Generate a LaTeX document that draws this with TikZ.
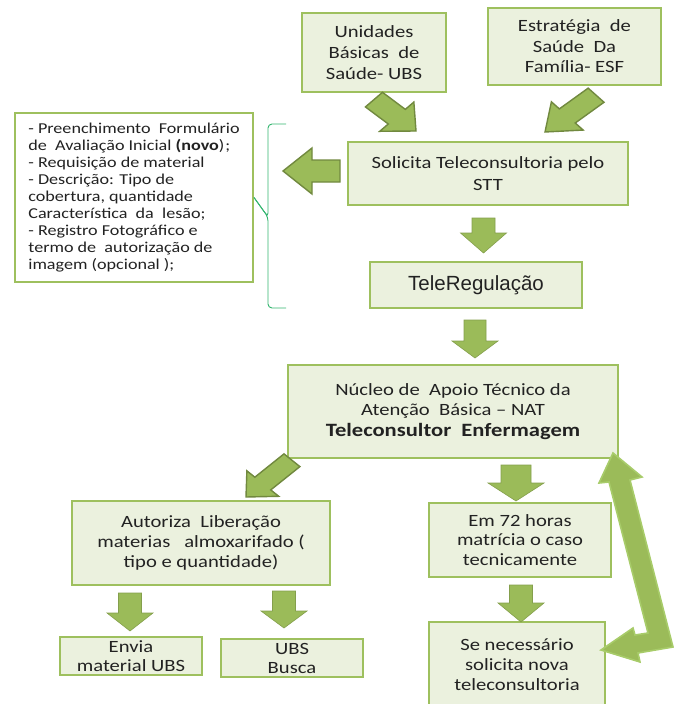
\documentclass[tikz,border=0pt]{standalone}
\usepackage{fontspec}
\setmainfont{Carlito}[FakeStretch=1.2]
\newfontfamily\arialf{Liberation Sans}
\usetikzlibrary{calc}
\definecolor{olive}{RGB}{155,187,89}
\definecolor{olivedark}{RGB}{113,137,63}
\definecolor{olivelight}{RGB}{168,204,106}
\definecolor{boxfill}{RGB}{235,241,222}
\definecolor{boxline}{RGB}{158,192,94}
\definecolor{bracecol}{RGB}{50,180,110}
\definecolor{txt}{RGB}{34,34,34}
\newcommand{\fsz}[2]{\fontsize{#1}{#2}\selectfont}
\newcommand{\axs}{1.25}
\newcommand{\dsp}{\ \ }
% #1 style, #2 tip, #3 angle, #4 length, #5 shaft half-width, #6 head half-width, #7 head length
\newcommand{\barrow}[7][]{%
  \begin{scope}[shift={(#2)}, xscale=\axs, rotate=#3]
    \draw[#1] (0,0) -- (-#7,#6) -- (-#7,#5) -- (-#4,#5) -- (-#4,-#5) -- (-#7,-#5) -- (-#7,-#6) -- cycle;
  \end{scope}}
\begin{document}
\begin{tikzpicture}[x=1pt,y=-1pt,
  box/.style={draw=boxline, line width=2pt, fill=boxfill, text=txt, align=center, inner sep=0pt, font=\fsz{17.2}{20}},
  darrow/.style={fill=olive, draw=olive!85!black, line width=0.6pt, line join=miter},
  karrow/.style={fill=olive, draw=olivedark, line width=1.4pt, line join=miter},
  larrow/.style={fill=olive, draw=olivelight, line width=1.6pt, line join=miter}]
\useasboundingbox (0,0) rectangle (681,704);

% boxes
\node[box, minimum width=144pt, minimum height=79pt, font=\fsz{17.2}{21}] (ubs) at (374,52.5) {Unidades\\Básicas\dsp de\\Saúde- UBS};
\node[box, minimum width=173pt, minimum height=77pt, font=\fsz{17.2}{20.5}] (esf) at (574.5,46.5) {Estratégia\dsp de\\Saúde\dsp Da\\Família- ESF};
\node[box, minimum width=280pt, minimum height=63pt, font=\fsz{17.2}{22}] (sol) at (488,173.5) {Solicita Teleconsultoria pelo\\STT};
\node[box, fill=white, minimum width=238pt, minimum height=169pt, align=left, font=\fsz{15.1}{17}] (req) at (134,197.5)
  {- Preenchimento\dsp Formulário\\de\dsp Avaliação Inicial \textbf{(novo})\kern1pt;\\- Requisição de material\\- Descrição: Tipo de\\cobertura, quantidade\\Característica\dsp da\dsp lesão;\\- Registro Fotográfico e\\termo de\dsp autorização de\\imagem (opcional );};
\node[box, minimum width=212pt, minimum height=46pt, font=\arialf\fsz{20.5}{24}] (reg) at (476,285) {TeleRegulação};
\node[box, minimum width=330pt, minimum height=93pt, font=\fsz{17.2}{20.5}] (nat) at (453,411.5) {Núcleo de\dsp Apoio Técnico da\\Atenção\dsp Básica – NAT\\{\fsz{18.8}{20.5}\textbf{Teleconsultor\dsp Enfermagem}}};
\node[box, minimum width=258pt, minimum height=84pt] (aut) at (201,543) {Autoriza\dsp Liberação\\materias\dsp\ almoxarifado (\\tipo e quantidade)};
\node[box, minimum width=182pt, minimum height=74pt, font=\fsz{17.2}{19.5}] (em) at (520,540) {Em 72 horas\\matrícia o caso\\tecnicamente};
\node[box, minimum width=176pt, minimum height=86pt] (se) at (517,665) {Se necessário\\solicita nova\\teleconsultoria};
\node[box, minimum width=142pt, minimum height=38pt, font=\fsz{17.2}{19}] (env) at (131,656) {Envia\\material UBS};
\node[box, minimum width=142pt, minimum height=38pt, font=\fsz{17.2}{19}] (bus) at (292,658) {UBS\\Busca};

% brace
\coordinate (brtip) at (req.east);
\draw[bracecol, line width=0.9pt, rounded corners=4pt] (286,124) -- (268,124) -- (268,217) -- (brtip);
\draw[bracecol, line width=0.9pt, rounded corners=4pt] (286,308) -- (268,308) -- (268,217) -- (brtip);

% arrow tips
\coordinate (tUbs) at (416,131);
\coordinate (tEsf) at (545,132);
\coordinate (tReq) at (283,171);
\coordinate (tReg) at (483.5,253);
\coordinate (tNat) at (475,358);
\coordinate (tAut) at (246,497);
\coordinate (tEm) at (516,501);
\coordinate (tSe) at (521,622);
\coordinate (tEnv) at (130,631);
\coordinate (tBus) at (284,628);

\barrow[karrow]{tUbs}{-43}{46}{10}{20}{21}
\barrow[karrow]{tEsf}{222}{55}{9.5}{19}{24}
\barrow[karrow]{tReq}{180}{45.6}{11}{23}{23.2}
\barrow[karrow]{tAut}{225}{52}{9}{18}{19}
\barrow[darrow]{tReg}{-90}{35}{9.2}{18.4}{20}
\barrow[darrow]{tNat}{-90}{38}{8.8}{18.4}{17}
\barrow[darrow]{tEm}{-90}{36}{12}{22.4}{18}
\barrow[darrow]{tSe}{-90}{37}{9.2}{18.4}{19}
\barrow[darrow]{tEnv}{-90}{38}{9.2}{18.4}{18}
\barrow[darrow]{tBus}{-90}{37}{9.2}{18.4}{17}

% double bent arrow between NAT and "Se necessario"
\draw[larrow] (613,453) -- (642,477) -- (630,480) -- (673,647) -- (638,653) -- (640,662) -- (601,650)
  -- (633,628) -- (635,635) -- (648,633) -- (609,482) -- (599,483) -- cycle;
\end{tikzpicture}
\end{document}
